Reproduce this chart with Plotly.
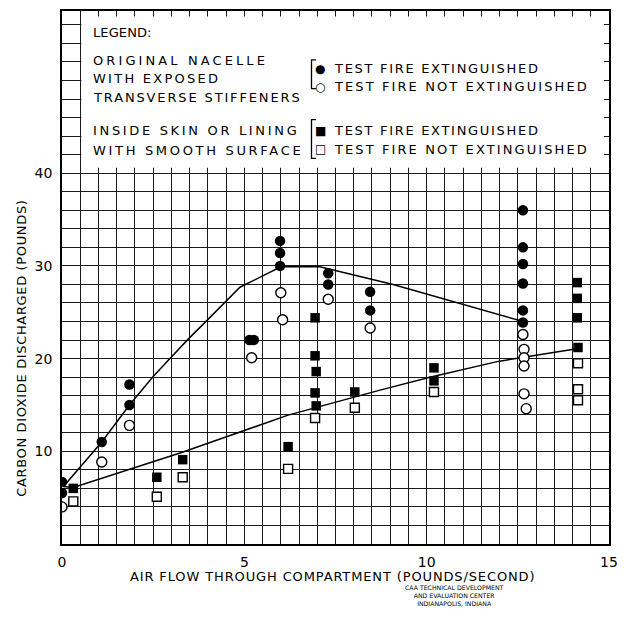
import plotly.graph_objects as go

# ---------------- data ----------------
# Original nacelle, exposed transverse stiffeners
orig_ext_x = [0.0, 0.0, 1.09, 1.85, 1.85, 5.14, 5.26, 5.98, 5.98, 5.98, 7.3, 7.3, 8.45, 8.45,
              12.64, 12.64, 12.64, 12.64, 12.64, 12.64]
orig_ext_y = [6.7, 5.5, 11.0, 17.2, 15.0, 22.0, 22.0, 32.7, 31.4, 30.0, 29.2, 28.0, 27.2, 25.2,
              36.0, 32.0, 30.2, 28.1, 25.2, 23.9]
orig_not_x = [0.0, 1.09, 1.85, 5.2, 6.0, 6.05, 7.3, 8.45,
              12.64, 12.67, 12.67, 12.67, 12.67, 12.73]
orig_not_y = [4.0, 8.85, 12.8, 20.1, 27.1, 24.2, 26.4, 23.3,
              22.6, 21.0, 20.1, 19.2, 16.2, 14.6]

# Inside skin or lining with smooth surface
smooth_ext_x = [0.31, 2.6, 3.31, 6.2, 6.94, 6.94, 6.97, 6.94, 6.97, 8.03, 10.2, 10.2,
                14.13, 14.13, 14.13, 14.15]
smooth_ext_y = [6.0, 7.2, 9.1, 10.5, 24.4, 20.3, 18.6, 16.3, 14.9, 16.4, 19.0, 17.6,
                28.2, 26.5, 24.4, 21.2]
smooth_not_x = [0.31, 2.6, 3.31, 6.2, 6.94, 8.03, 10.2, 14.15, 14.15, 14.15]
smooth_not_y = [4.6, 5.1, 7.2, 8.1, 13.6, 14.7, 16.4, 19.5, 16.7, 15.5]

# Faired curves
upper_curve_x = [0.04, 1.09, 1.85, 2.5, 2.98, 3.46, 3.97, 4.47, 4.88, 6.0, 7.07, 9.08, 12.64]
upper_curve_y = [6.2, 11.0, 15.0, 18.06, 20.1, 22.1, 24.1, 26.05, 27.7, 29.9, 29.9, 28.0, 24.0]
lower_curve_x = [0.04, 0.31, 3.3, 6.2, 8.72, 10.09, 11.96, 14.16]
lower_curve_y = [6.2, 6.1, 9.9, 13.9, 16.6, 18.0, 19.7, 21.1]

x_tick_vals = [0, 5, 10, 15]
x_tick_text = ["0", "5", "10", "15"]
y_tick_vals = [10, 20, 30, 40]
y_tick_text = ["10", "20", "30", "40"]

legend_left_lines = ["LEGEND:", "ORIGINAL NACELLE", "WITH EXPOSED", "TRANSVERSE STIFFENERS",
                     "INSIDE SKIN OR LINING", "WITH SMOOTH SURFACE"]
legend_symbols = ["●", "○", "■", "□"]
legend_right_lines = ["TEST FIRE EXTINGUISHED", "TEST FIRE NOT EXTINGUISHED",
                      "TEST FIRE EXTINGUISHED", "TEST FIRE NOT EXTINGUISHED"]

# ---------------- layout geometry ----------------
# page body has an 8px margin; plot area in window pixels: x 62..609, y 9..544
OFF = 8
W, H = 612, 603
L, T = 62 - OFF, 9 - OFF
R, B = W - (609 - OFF), H - (544 - OFF)
PW, PH = W - L - R, H - T - B
FONT = "DejaVu Sans"

# placement of legend lettering (window pixels) and letter spacing per line
left_pos = [(31, 0.1), (59, 3.1), (77, 2.25), (96, 1.86), (129, 2.67), (149, 2.68)]
right_pos = [(67, 1.7), (85, 2.1), (129, 1.7), (148, 2.1)]


def px(wx):
    return (wx - 62) / PW


def py(wy):
    return (544 - wy) / PH


def spaced(text, ls):
    return f'<span style="letter-spacing:{ls}px">{text}</span>'


fig = go.Figure()

line_style = dict(color="black", width=1.5)
fig.add_trace(go.Scatter(x=upper_curve_x, y=upper_curve_y, mode="lines", line=line_style,
                         hoverinfo="skip", showlegend=False))
fig.add_trace(go.Scatter(x=lower_curve_x, y=lower_curve_y, mode="lines", line=line_style,
                         hoverinfo="skip", showlegend=False))

fig.add_trace(go.Scatter(x=orig_not_x, y=orig_not_y, mode="markers", showlegend=False,
                         marker=dict(symbol="circle", size=10, color="white",
                                     line=dict(color="black", width=1.4))))
fig.add_trace(go.Scatter(x=smooth_not_x, y=smooth_not_y, mode="markers", showlegend=False,
                         marker=dict(symbol="square", size=9, color="white",
                                     line=dict(color="black", width=1.4))))
fig.add_trace(go.Scatter(x=orig_ext_x, y=orig_ext_y, mode="markers", showlegend=False,
                         marker=dict(symbol="circle", size=10.5, color="black",
                                     line=dict(color="black", width=0))))
fig.add_trace(go.Scatter(x=smooth_ext_x, y=smooth_ext_y, mode="markers", showlegend=False,
                         marker=dict(symbol="square", size=9.5, color="black",
                                     line=dict(color="black", width=0))))

shapes = []
# white legend box covering the upper grid
shapes.append(dict(type="rect", xref="x", yref="y", x0=0.53, x1=14.86, y0=40.6, y1=56.9,
                   fillcolor="white", line=dict(width=0), layer="above"))
# brackets
for top, bot in [(58, 87), (118, 157)]:
    shapes.append(dict(type="path", xref="paper", yref="paper",
                       path=f"M {px(316)},{py(top)} L {px(311.5)},{py(top)} L {px(311.5)},{py(bot)} L {px(316)},{py(bot)}",
                       line=dict(color="black", width=1.3), layer="above"))

annotations = []
LEG_SIZE = 13
for text, (yy, ls) in zip(legend_left_lines, left_pos):
    annotations.append(dict(xref="paper", yref="paper", x=px(91), y=py(yy),
                            text=spaced(text, ls),
                            showarrow=False, xanchor="left", yanchor="middle",
                            font=dict(family=FONT, size=LEG_SIZE, color="black")))
for sym, text, (yy, ls) in zip(legend_symbols, legend_right_lines, right_pos):
    annotations.append(dict(xref="paper", yref="paper", x=px(320), y=py(yy), text=sym,
                            showarrow=False, xanchor="center", yanchor="middle",
                            font=dict(family=FONT, size=12, color="black")))
    annotations.append(dict(xref="paper", yref="paper", x=px(332), y=py(yy),
                            text=spaced(text, ls),
                            showarrow=False, xanchor="left", yanchor="middle",
                            font=dict(family=FONT, size=LEG_SIZE, color="black")))

annotations.append(dict(xref="paper", yref="paper", x=px(332), y=py(577),
                        text=spaced("AIR FLOW THROUGH COMPARTMENT (POUNDS/SECOND)", 0.87),
                        showarrow=False, xanchor="center", yanchor="middle",
                        font=dict(family=FONT, size=13, color="black")))
annotations.append(dict(xref="paper", yref="paper", x=px(22), y=py(348),
                        text=spaced("CARBON DIOXIDE DISCHARGED (POUNDS)", 0.65), textangle=-90,
                        showarrow=False, xanchor="center", yanchor="middle",
                        font=dict(family=FONT, size=13, color="black")))
annotations.append(dict(xref="paper", yref="paper", x=px(454), y=py(596),
                        text="CAA TECHNICAL DEVELOPMENT<br>AND EVALUATION CENTER<br>INDIANAPOLIS, INDIANA",
                        showarrow=False, xanchor="center", yanchor="middle", align="center",
                        font=dict(family=FONT, size=6.2, color="black")))

grid_col = "#1a1a1a"
fig.update_layout(
    width=W, height=H,
    margin=dict(l=L, r=R, t=T, b=B, pad=0),
    paper_bgcolor="white", plot_bgcolor="white",
    showlegend=False,
    shapes=shapes,
    annotations=annotations,
    xaxis=dict(range=[0, 15], tickvals=x_tick_vals, ticktext=x_tick_text,
               showgrid=True, gridcolor=grid_col, gridwidth=1,
               minor=dict(dtick=0.5, tick0=0, showgrid=True, gridcolor=grid_col, gridwidth=1),
               showline=True, linecolor="black", linewidth=1.5, mirror=True,
               ticks="", zeroline=False, ticklabelstandoff=4,
               tickfont=dict(family=FONT, size=14, color="black"), fixedrange=True),
    yaxis=dict(range=[0, 57.5], tickvals=y_tick_vals, ticktext=y_tick_text,
               showgrid=True, gridcolor=grid_col, gridwidth=1,
               minor=dict(dtick=2, tick0=0, showgrid=True, gridcolor=grid_col, gridwidth=1),
               showline=True, linecolor="black", linewidth=1.5, mirror=True,
               ticks="", zeroline=False, ticklabelstandoff=5,
               tickfont=dict(family=FONT, size=14, color="black"), fixedrange=True),
)

fig.write_html("out.html")
